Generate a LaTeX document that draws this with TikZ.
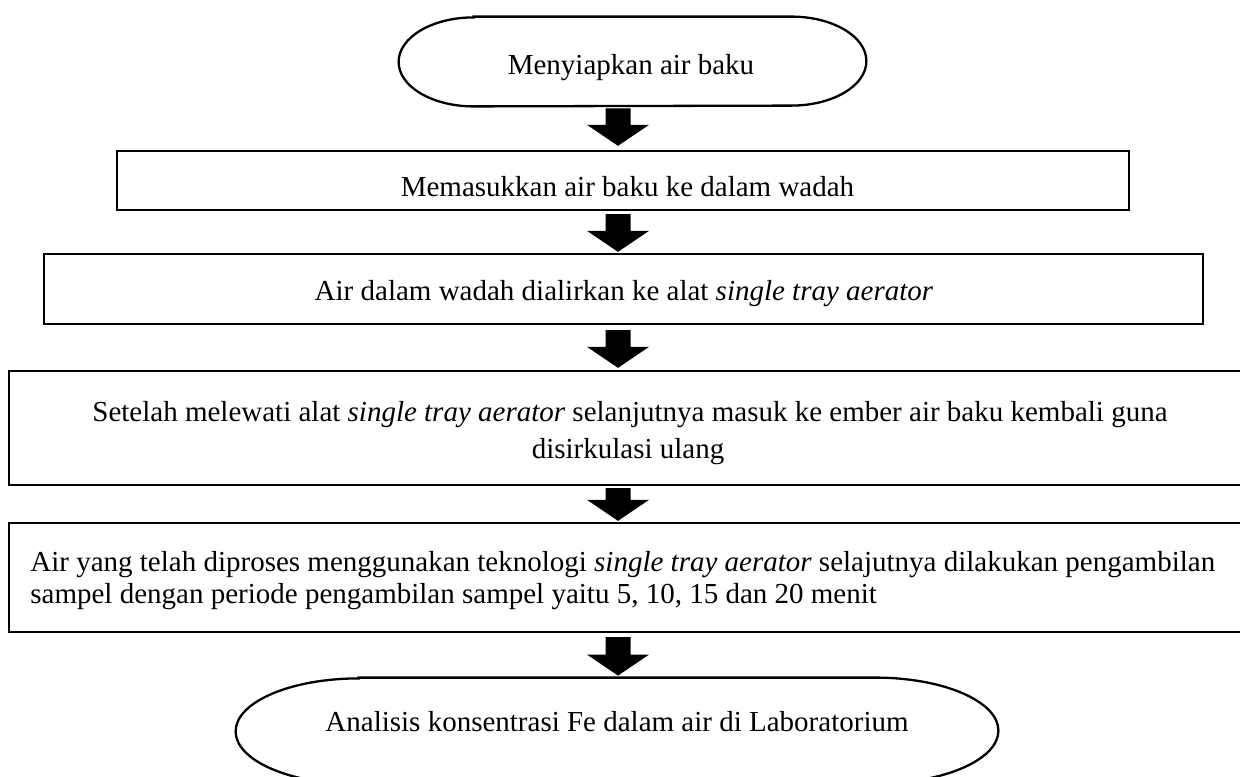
\documentclass[tikz,border=0pt]{standalone}
\usepackage{fontspec}
\setmainfont{Liberation Serif}
\usetikzlibrary{calc}
\newcommand\blockarrow[2]{\fill ($(#1)+(-12.5,0)$) -- ($(#1)+(12.5,0)$) -- ($(#2)+(12.5,-21)$) -- ($(#2)+(31,-21)$) -- (#2) -- ($(#2)+(-31,-21)$) -- ($(#2)+(-12.5,-21)$) -- cycle;}
\begin{document}
\begin{tikzpicture}[x=0.5pt,y=-0.5pt,
  box/.style={draw, line width=1.15pt, inner sep=0pt, rectangle},
  term/.style={inner sep=0pt},
  outline/.style={line width=1.15pt},
  txt/.style={inner sep=0pt, font=\fontsize{14.5pt}{16pt}\selectfont}]
\useasboundingbox (0,0) rectangle (1240,776);
\clip (0,0) rectangle (1240,776);

% terminator 1
\node[term, minimum width=233.5pt, minimum height=44.5pt] (t1) at (632.5,61.5) {};
\draw[outline] ([xshift=37.5pt]t1.north west) -- ([xshift=-37.5pt]t1.north east)
  arc[start angle=90,end angle=-90,x radius=37.5pt,y radius=22.25pt]
  -- ([xshift=37.5pt]t1.south west)
  arc[start angle=270,end angle=90,x radius=37.5pt,y radius=22.25pt] -- cycle;
\node[txt, anchor=base] (t1txt) at (631,74) {Menyiapkan air baku};

% box 2
\node[box, minimum width=506pt, minimum height=29.5pt] (b2) at (623,180.5) {};
\node[txt, anchor=base] (b2txt) at (627.5,196) {Memasukkan air baku ke dalam wadah};

% box 3
\node[box, minimum width=579.5pt, minimum height=35pt] (b3) at (623.5,289) {};
\node[txt, anchor=base] (b3txt) at (624,300) {Air dalam wadah dialirkan ke alat \textit{single tray aerator}};

% box 4
\node[box, minimum width=621pt, minimum height=57pt] (b4) at (630,428) {};
\node[txt, anchor=base] (b4a) at (630,421) {Setelah melewati alat \textit{single tray aerator} selanjutnya masuk ke ember air baku kembali guna};
\node[txt, anchor=base] (b4b) at (628,458) {disirkulasi ulang};

% box 5
\node[box, minimum width=621pt, minimum height=54.5pt] (b5) at (630,577.5) {};
\node[txt, anchor=base west] (b5a) at (30,571) {Air yang telah diproses menggunakan teknologi \textit{single tray aerator} selajutnya dilakukan pengambilan};
\node[txt, anchor=base west] (b5b) at (30,603) {sampel dengan periode pengambilan sampel yaitu 5, 10, 15 dan 20 menit};

% terminator 6 (cut off by the lower edge)
\node[term, minimum width=381pt, minimum height=53pt] (t6) at (617,731) {};
\draw[outline] ([xshift=61.5pt]t6.north west) -- ([xshift=-61.5pt]t6.north east)
  arc[start angle=90,end angle=-90,x radius=61.5pt,y radius=26.5pt]
  -- ([xshift=61.5pt]t6.south west)
  arc[start angle=270,end angle=90,x radius=61.5pt,y radius=26.5pt] -- cycle;
\node[txt, anchor=base] (t6txt) at (617,731) {Analisis konsentrasi Fe dalam air di Laboratorium};

% arrows
\coordinate (ax) at (618,0);
\coordinate (a1s) at ($(t1.south -| ax)+(0,2)$);
\coordinate (a1e) at ($(b2.north -| ax)+(0,-4)$);
\coordinate (a2s) at ($(b2.south -| ax)+(0,3)$);
\coordinate (a2e) at ($(b3.north -| ax)+(0,-1)$);
\coordinate (a3s) at ($(b3.south -| ax)+(0,5)$);
\coordinate (a3e) at ($(b4.north -| ax)+(0,-2)$);
\coordinate (a4s) at ($(b4.south -| ax)+(0,2)$);
\coordinate (a4e) at ($(b5.north -| ax)+(0,-1)$);
\coordinate (a5s) at ($(b5.south -| ax)+(0,4)$);
\coordinate (a5e) at ($(t6.north -| ax)+(0,-2)$);
\blockarrow{a1s}{a1e}
\blockarrow{a2s}{a2e}
\blockarrow{a3s}{a3e}
\blockarrow{a4s}{a4e}
\blockarrow{a5s}{a5e}
\end{tikzpicture}
\end{document}
